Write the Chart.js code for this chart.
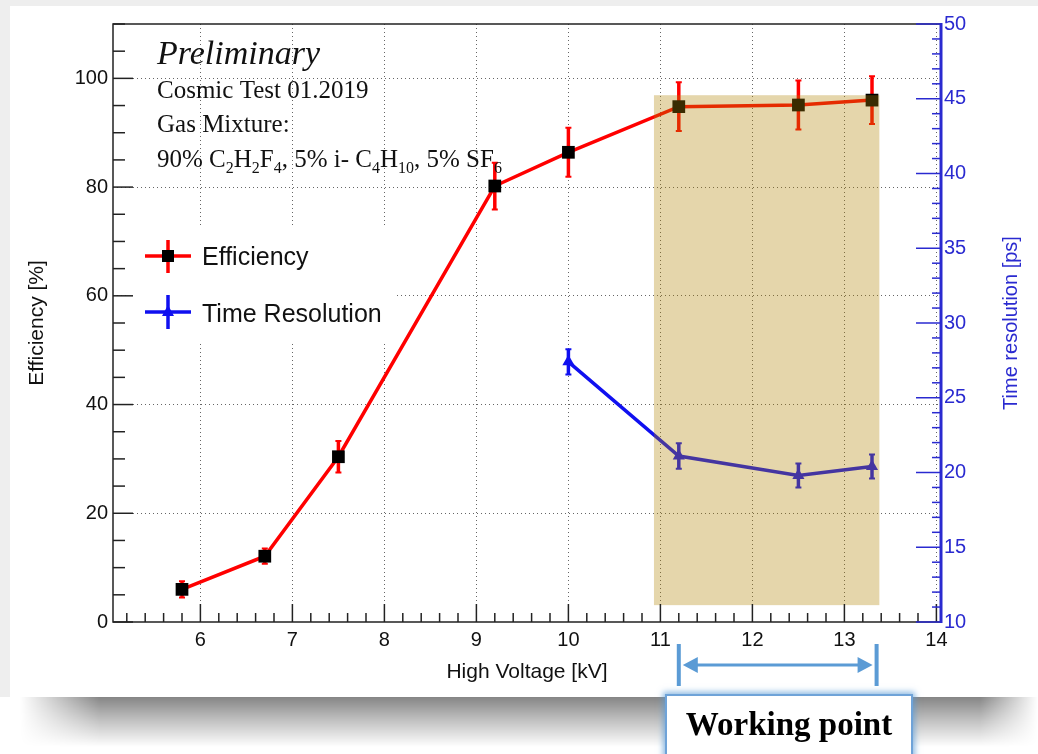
<!DOCTYPE html>
<html>
<head>
<meta charset="utf-8">
<script src="https://cdn.jsdelivr.net/npm/chart.js@4.4.1/dist/chart.umd.min.js"></script>
<style>
  html, body { margin: 0; padding: 0; width: 1038px; height: 754px; overflow: hidden; background: #fff; }
  #backdrop { position: absolute; left: 0; top: 0; width: 1038px; height: 697px; background: #eeeeee; }
  #shadow {
    position: absolute; left: 20px; top: 697px; width: 1018px; height: 50px;
    background: linear-gradient(to bottom, rgba(0,0,0,0.48), rgba(0,0,0,0.25) 45%, rgba(0,0,0,0));
    -webkit-mask-image: linear-gradient(to right, transparent, #000 80px, #000 960px, transparent);
    mask-image: linear-gradient(to right, transparent, #000 80px, #000 960px, transparent);
  }
  #card { position: absolute; left: 10px; top: 6px; width: 1028px; height: 691px; background: #fff; }
  #chart { position: absolute; left: 0; top: 0; }
  #wp {
    position: absolute; left: 665px; top: 694px; width: 244px; height: 70px;
    background: #fff; border: 2px solid #6fa3d8; box-shadow: 0 0 6px 2px rgba(91,155,213,0.7);
    font: bold 33px "Liberation Serif", serif; color: #000; text-align: center; line-height: 56px;
  }
</style>
</head>
<body>
<div id="backdrop"></div>
<div id="shadow"></div>
<div id="card"></div>
<canvas id="chart" width="1038" height="754"></canvas>
<div id="wp">Working point</div>
<script>
// Cosmic test: efficiency and time resolution vs HV

const hv = [5.8, 6.7, 7.5, 9.2, 10, 11.2, 12.5, 13.3];
const efficiency = [6.0, 12.1, 30.4, 80.2, 86.4, 94.8, 95.1, 96.0];
const efficiencyErr = [1.5, 1.4, 2.9, 4.3, 4.5, 4.5, 4.5, 4.4];

const hvTime = [10, 11.2, 12.5, 13.3];
const timeRes = [27.4, 21.1, 19.8, 20.4];
const timeResErr = [0.85, 0.85, 0.8, 0.8];

const xTicks = [6, 7, 8, 9, 10, 11, 12, 13, 14];
const effTicks = [0, 20, 40, 60, 80, 100];
const timeTicks = [10, 15, 20, 25, 30, 35, 40, 45, 50];

// working point band (kV, efficiency %)
const bandX = [10.93, 13.38];
const bandY = [3.1, 96.9];
const workingPoint = [11.2, 13.35];

const RED = '#ff0000';
const BLUE = '#1010f0';
const AXIS_BLUE = '#2a2ad0';
const WP_BLUE = '#5b9bd5';

function drawTicks(ctx, scale, step, majorEvery, majLen, minLen, side, area) {
    const start = Math.ceil(scale.min / step - 1e-9) * step;
    for (let v = start; v <= scale.max + 1e-9; v += step) {
        const r = v / majorEvery;
        const len = Math.abs(r - Math.round(r)) < 1e-6 ? majLen : minLen;
        const p = scale.getPixelForValue(v);
        ctx.beginPath();
        if (side === 'bottom') { ctx.moveTo(p, area.bottom); ctx.lineTo(p, area.bottom - len); }
        if (side === 'left') { ctx.moveTo(area.left, p); ctx.lineTo(area.left + len, p); }
        if (side === 'right') { ctx.moveTo(area.right, p); ctx.lineTo(area.right - len, p); }
        ctx.stroke();
    }
}

function drawRich(ctx, x, y, parts) {
    parts.forEach(([text, sub]) => {
        ctx.font = sub ? '16px "Liberation Serif"' : '25px "Liberation Serif"';
        ctx.fillText(text, x, sub ? y + 6 : y);
        x += ctx.measureText(text).width;
    });
}

const rootStyle = {
    id: 'rootStyle',
    beforeDatasetsDraw(chart) {
        const ctx = chart.ctx;
        const xs = chart.scales.x;
        chart.data.datasets.forEach(ds => {
            const ys = chart.scales[ds.yAxisID];
            ctx.save();
            ctx.strokeStyle = ds.borderColor;
            ds.data.forEach((p, i) => {
                const px = xs.getPixelForValue(p.x);
                const top = ys.getPixelForValue(p.y + ds.errors[i]);
                const bot = ys.getPixelForValue(p.y - ds.errors[i]);
                ctx.lineWidth = 3.5;
                ctx.beginPath();
                ctx.moveTo(px, top); ctx.lineTo(px, bot);
                ctx.stroke();
                ctx.lineWidth = 2;
                ctx.beginPath();
                ctx.moveTo(px - 3, top); ctx.lineTo(px + 3, top);
                ctx.moveTo(px - 3, bot); ctx.lineTo(px + 3, bot);
                ctx.stroke();
            });
            ctx.restore();
        });
    },
    afterDatasetsDraw(chart) {
        const ctx = chart.ctx;
        const xs = chart.scales.x, ys = chart.scales.y;

        // shaded working region
        ctx.save();
        ctx.fillStyle = 'rgba(176,132,0,0.33)';
        const bx0 = xs.getPixelForValue(bandX[0]), bx1 = xs.getPixelForValue(bandX[1]);
        const by0 = ys.getPixelForValue(bandY[1]), by1 = ys.getPixelForValue(bandY[0]);
        ctx.fillRect(bx0, by0, bx1 - bx0, by1 - by0);
        ctx.restore();

        // legend
        ctx.save();
        ctx.fillStyle = '#fff';
        ctx.fillRect(128, 228, 268, 114);
        ctx.lineWidth = 3.5;
        ctx.strokeStyle = RED;
        ctx.beginPath();
        ctx.moveTo(145, 256); ctx.lineTo(191, 256);
        ctx.moveTo(168, 240); ctx.lineTo(168, 273);
        ctx.stroke();
        ctx.fillStyle = '#000';
        ctx.fillRect(162, 250, 12, 12);
        ctx.strokeStyle = BLUE;
        ctx.beginPath();
        ctx.moveTo(145, 312); ctx.lineTo(191, 312);
        ctx.moveTo(168, 295); ctx.lineTo(168, 329);
        ctx.stroke();
        ctx.fillStyle = BLUE;
        ctx.beginPath();
        ctx.moveTo(168, 305); ctx.lineTo(174, 316); ctx.lineTo(162, 316); ctx.closePath();
        ctx.fill();
        ctx.fillStyle = '#111';
        ctx.font = '25px "Liberation Sans"';
        ctx.textBaseline = 'middle';
        ctx.fillText('Efficiency', 202, 258);
        ctx.fillText('Time Resolution', 202, 315);
        ctx.restore();

        // info text
        ctx.save();
        ctx.fillStyle = '#111';
        ctx.textBaseline = 'alphabetic';
        ctx.font = 'italic 34px "Liberation Serif"';
        ctx.fillText('Preliminary', 157, 64);
        ctx.font = '25px "Liberation Serif"';
        ctx.fillText('Cosmic Test 01.2019', 157, 98);
        ctx.fillText('Gas Mixture:', 157, 132);
        drawRich(ctx, 157, 167, [
            ['90% C', 0], ['2', 1], ['H', 0], ['2', 1], ['F', 0], ['4', 1],
            [', 5% i- C', 0], ['4', 1], ['H', 0], ['10', 1], [', 5% SF', 0], ['6', 1]
        ]);
        ctx.restore();
    },
    afterDraw(chart) {
        const ctx = chart.ctx;
        const a = chart.chartArea;
        ctx.save();
        ctx.strokeStyle = '#222';
        ctx.lineWidth = 1.5;
        drawTicks(ctx, chart.scales.x, 0.2, 1, 18, 9, 'bottom', a);
        drawTicks(ctx, chart.scales.y, 5, 20, 20, 12, 'left', a);
        ctx.beginPath();
        ctx.moveTo(a.right, a.top); ctx.lineTo(a.left, a.top);
        ctx.lineTo(a.left, a.bottom); ctx.lineTo(a.right, a.bottom);
        ctx.stroke();
        ctx.strokeStyle = AXIS_BLUE;
        drawTicks(ctx, chart.scales.y2, 1, 5, 25, 9, 'right', a);
        ctx.lineWidth = 3;
        ctx.beginPath();
        ctx.moveTo(a.right, a.top - 1); ctx.lineTo(a.right, a.bottom + 1);
        ctx.stroke();

        // right axis title, reading upwards
        ctx.translate(1011, (a.top + a.bottom) / 2);
        ctx.rotate(-Math.PI / 2);
        ctx.fillStyle = AXIS_BLUE;
        ctx.font = '20px "Liberation Sans"';
        ctx.textAlign = 'center';
        ctx.textBaseline = 'middle';
        ctx.fillText('Time resolution [ps]', 0, 0);
        ctx.restore();

        // working point arrow
        const x1 = chart.scales.x.getPixelForValue(workingPoint[0]);
        const x2 = chart.scales.x.getPixelForValue(workingPoint[1]);
        ctx.save();
        ctx.strokeStyle = WP_BLUE;
        ctx.fillStyle = WP_BLUE;
        ctx.lineWidth = 4;
        ctx.beginPath();
        ctx.moveTo(x1, 644); ctx.lineTo(x1, 686);
        ctx.moveTo(x2, 644); ctx.lineTo(x2, 686);
        ctx.stroke();
        ctx.lineWidth = 3;
        ctx.beginPath();
        ctx.moveTo(x1 + 14, 665); ctx.lineTo(x2 - 14, 665);
        ctx.stroke();
        ctx.beginPath();
        ctx.moveTo(x1 + 4, 665); ctx.lineTo(x1 + 19, 657); ctx.lineTo(x1 + 19, 673); ctx.closePath();
        ctx.moveTo(x2 - 4, 665); ctx.lineTo(x2 - 19, 657); ctx.lineTo(x2 - 19, 673); ctx.closePath();
        ctx.fill();
        ctx.restore();
    }
};

const tickFont = { family: 'Liberation Sans', size: 20 };

new Chart(document.getElementById('chart'), {
    type: 'line',
    data: {
        datasets: [{
            label: 'Efficiency',
            data: hv.map((x, i) => ({ x, y: efficiency[i] })),
            errors: efficiencyErr,
            yAxisID: 'y',
            borderColor: RED,
            borderWidth: 3.5,
            pointStyle: 'rect',
            pointRadius: 9,
            pointBackgroundColor: '#000',
            pointBorderColor: '#000',
            pointBorderWidth: 0,
            tension: 0
        }, {
            label: 'Time Resolution',
            data: hvTime.map((x, i) => ({ x, y: timeRes[i] })),
            errors: timeResErr,
            yAxisID: 'y2',
            borderColor: BLUE,
            borderWidth: 3.5,
            pointStyle: 'triangle',
            pointRadius: 7,
            pointBackgroundColor: BLUE,
            pointBorderColor: BLUE,
            pointBorderWidth: 0,
            tension: 0
        }]
    },
    options: {
        responsive: false,
        animation: false,
        events: [],
        layout: { padding: { top: 24, left: 0, right: 0, bottom: 0 } },
        plugins: { legend: { display: false }, tooltip: { enabled: false } },
        scales: {
            x: {
                type: 'linear',
                position: 'bottom',
                min: 5.05,
                max: 14.05,
                afterBuildTicks: s => { s.ticks = xTicks.map(v => ({ value: v })); },
                afterFit: s => { s.height = 132; },
                ticks: { font: tickFont, color: '#111', padding: 6, maxRotation: 0, autoSkip: false },
                grid: { color: '#666', lineWidth: 1, drawTicks: false },
                border: { display: false, dash: [1, 3] },
                title: {
                    display: true,
                    text: 'High Voltage [kV]',
                    color: '#111',
                    font: { family: 'Liberation Sans', size: 21, lineHeight: 1 },
                    padding: { top: 0, bottom: 71 }
                }
            },
            y: {
                position: 'left',
                min: 0,
                max: 110,
                afterBuildTicks: s => { s.ticks = effTicks.map(v => ({ value: v })); },
                afterFit: s => { s.width = 113; },
                ticks: { font: tickFont, color: '#111', padding: 5 },
                grid: { color: c => (c.tick && c.tick.value === 0 ? 'rgba(0,0,0,0)' : '#666'), lineWidth: 1, drawTicks: false },
                border: { display: false, dash: [1, 3] },
                title: {
                    display: true,
                    text: 'Efficiency [%]',
                    color: '#111',
                    font: { family: 'Liberation Sans', size: 21, lineHeight: 1 },
                    padding: { top: 27, bottom: 0 }
                }
            },
            y2: {
                position: 'right',
                min: 10,
                max: 50,
                afterBuildTicks: s => { s.ticks = timeTicks.map(v => ({ value: v })); },
                afterFit: s => { s.width = 97; },
                ticks: { font: tickFont, color: AXIS_BLUE, padding: 3 },
                grid: { display: false, drawTicks: false },
                border: { display: false }
            }
        }
    },
    plugins: [rootStyle]
});
</script>
</body>
</html>
